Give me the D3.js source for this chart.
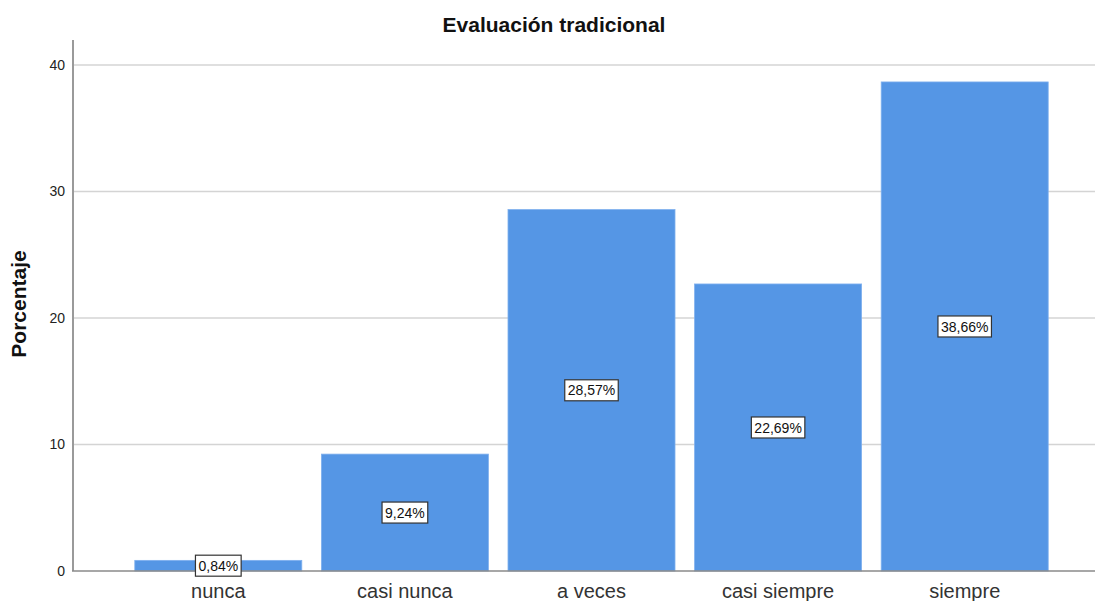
<!DOCTYPE html>
<html>
<head>
<meta charset="utf-8">
<script src="https://cdn.jsdelivr.net/npm/d3@7"></script>
<style>
  body { margin: 0; background: #fff; }
  svg { display: block; font-family: Arial, "Liberation Sans", sans-serif; }
</style>
</head>
<body>
<svg id="chart" width="1098" height="601"></svg>
<script>
// Response categories and their percentages
const categories = ["nunca", "casi nunca", "a veces", "casi siempre", "siempre"];
const percentages = [0.84, 9.24, 28.57, 22.69, 38.66];
const yTicks = [0, 10, 20, 30, 40];
const title = "Evaluación tradicional";
const yTitle = "Porcentaje";

const svg = d3.select("#chart");
const plotLeft = 73, plotRight = 1095, plotTop = 40, plotBottom = 571;
const font = "Arial, 'Liberation Sans', sans-serif";

const x = d3.scaleBand()
  .domain(categories)
  .range([125, 1058])
  .paddingInner(0.105)
  .paddingOuter(0.0525);

const y = d3.scaleLinear()
  .domain([0, 40])
  .range([plotBottom, 65]);

// Horizontal gridlines
svg.append("g")
  .selectAll("line")
  .data(yTicks.filter(d => d > 0))
  .join("line")
  .attr("x1", plotLeft).attr("x2", plotRight)
  .attr("y1", d => y(d)).attr("y2", d => y(d))
  .attr("stroke", "#d4d4d4").attr("stroke-width", 1.5);

// Bars
svg.append("g")
  .selectAll("rect")
  .data(percentages)
  .join("rect")
  .attr("x", (d, i) => x(categories[i]))
  .attr("width", x.bandwidth())
  .attr("y", d => y(d))
  .attr("height", d => y(0) - y(d))
  .attr("fill", "#5596e5")
  .attr("stroke", "#7fb0ee")
  .attr("stroke-width", 0.8);

// Y axis
const yAxis = svg.append("g")
  .attr("transform", `translate(${plotLeft},0)`)
  .call(d3.axisLeft(y).tickValues(yTicks).tickSize(0).tickPadding(8));
yAxis.select(".domain").remove();
yAxis.selectAll("text")
  .attr("font-size", 14).attr("fill", "#222")
  .attr("font-family", font);

svg.append("line")
  .attr("x1", plotLeft).attr("x2", plotLeft)
  .attr("y1", plotTop).attr("y2", plotBottom)
  .attr("stroke", "#9a9a9a").attr("stroke-width", 2);

// X axis baseline and category labels
svg.append("line")
  .attr("x1", plotLeft - 1).attr("x2", plotRight)
  .attr("y1", plotBottom).attr("y2", plotBottom)
  .attr("stroke", "#8a8a8a").attr("stroke-width", 1.5);

const xAxis = svg.append("g")
  .attr("transform", `translate(0,${plotBottom})`)
  .call(d3.axisBottom(x).tickSize(0).tickPadding(0));
xAxis.select(".domain").remove();
xAxis.selectAll("text")
  .attr("dy", null)
  .attr("y", 27)
  .attr("font-size", 20).attr("fill", "#333")
  .attr("font-family", font);

// Value labels inside each bar
const fmt = d => d.toFixed(2).replace(".", ",") + "%";
const labels = svg.append("g")
  .selectAll("g")
  .data(percentages)
  .join("g")
  .attr("transform", (d, i) =>
    `translate(${x(categories[i]) + x.bandwidth() / 2},${y(d / 2)})`);

labels.append("text")
  .attr("text-anchor", "middle")
  .attr("dy", "0.36em")
  .attr("font-size", 14)
  .attr("fill", "#111")
  .text(fmt)
  .each(function () {
    const b = this.getBBox();
    d3.select(this.parentNode).insert("rect", "text")
      .attr("x", b.x - 3).attr("y", -10.5)
      .attr("width", b.width + 6).attr("height", 21)
      .attr("fill", "#fff")
      .attr("stroke", "#333").attr("stroke-width", 1.2);
  });

// Titles
svg.append("text")
  .attr("x", 554).attr("y", 32)
  .attr("text-anchor", "middle")
  .attr("font-size", 21).attr("font-weight", "bold")
  .attr("fill", "#111")
  .text(title);

svg.append("text")
  .attr("transform", "translate(26,304) rotate(-90)")
  .attr("text-anchor", "middle")
  .attr("font-size", 21).attr("font-weight", "bold")
  .attr("fill", "#111")
  .text(yTitle);
</script>
</body>
</html>
